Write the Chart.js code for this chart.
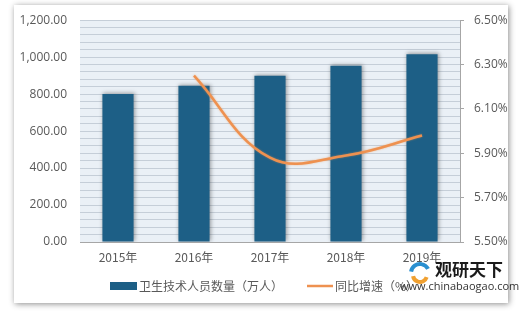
<!DOCTYPE html>
<html>
<head>
<meta charset="utf-8">
<script src="https://cdn.jsdelivr.net/npm/chart.js@4"></script>
<style>
  html, body { margin: 0; padding: 0; background: #fff; }
  #wrap { width: 520px; height: 313px; }
</style>
</head>
<body>
<div id="wrap"><canvas id="myChart" width="520" height="313"></canvas></div>
<script>
// data
const years = ['2015年', '2016年', '2017年', '2018年', '2019年'];
const staff = [800.8, 845.4, 898.8, 952.9, 1015.4];       // 卫生技术人员数量（万人）
const growth = [null, 6.25, 5.88, 5.89, 5.98];           // 同比增速（%）
const staffLabel = '卫生技术人员数量（万人）';
const growthLabel = '同比增速（%）';

const barColor = '#1d5f86';
const lineColor = '#ee9150';
const fontCJK = '"Noto Sans CJK SC", "Noto Sans", sans-serif';
const fontNum = '"Open Sans", "DejaVu Sans", sans-serif';

// white card with a grey shadow behind everything
const framePlugin = {
  id: 'frame',
  beforeDraw(chart) {
    const ctx = chart.ctx;
    const a = chart.chartArea;
    ctx.save();
    ctx.fillStyle = '#ffffff';
    ctx.fillRect(0, 0, chart.width, chart.height);
    ctx.shadowColor = 'rgba(0,0,0,0.45)';
    ctx.shadowBlur = 6;
    ctx.shadowOffsetX = 1;
    ctx.shadowOffsetY = 1;
    ctx.fillStyle = '#ffffff';
    ctx.fillRect(14, 5, 494, 298);
    ctx.restore();
    // plot background
    ctx.save();
    ctx.fillStyle = '#eaf0f6';
    ctx.fillRect(a.left, a.top, a.right - a.left, a.bottom - a.top);
    ctx.restore();
  }
};

// soft shadow under the bars / glow on the line
const shadowPlugin = {
  id: 'shadows',
  beforeDatasetDraw(chart, args) {
    const ctx = chart.ctx;
    ctx.save();
    if (args.index === 0) {
      ctx.shadowColor = 'rgba(0,0,0,0.35)';
      ctx.shadowBlur = 4;
      ctx.shadowOffsetX = 1;
      ctx.shadowOffsetY = -1;
    } else {
      ctx.shadowColor = 'rgba(240,150,80,0.6)';
      ctx.shadowBlur = 2;
    }
  },
  afterDatasetDraw(chart) {
    chart.ctx.restore();
  }
};

// legend + watermark
const legendPlugin = {
  id: 'legendDraw',
  afterDraw(chart) {
    const ctx = chart.ctx;
    ctx.save();
    ctx.fillStyle = barColor;
    ctx.fillRect(110, 282, 27, 8);
    ctx.font = '12px ' + fontCJK;
    ctx.fillStyle = '#595959';
    ctx.textBaseline = 'middle';
    ctx.fillText(staffLabel, 139, 286);
    ctx.strokeStyle = lineColor;
    ctx.lineWidth = 2.5;
    ctx.beginPath();
    ctx.moveTo(307, 286);
    ctx.lineTo(333, 286);
    ctx.stroke();
    ctx.fillText(growthLabel, 335, 286);

    // watermark logo
    ctx.lineWidth = 4;
    ctx.strokeStyle = '#2a8fd0';
    ctx.beginPath();
    ctx.arc(420, 273, 9, Math.PI * 1.05, Math.PI * 1.85);
    ctx.stroke();
    ctx.strokeStyle = '#f0a030';
    ctx.beginPath();
    ctx.arc(420, 275, 7, Math.PI * 0.1, Math.PI * 0.95);
    ctx.stroke();
    ctx.fillStyle = '#1a1a1a';
    ctx.font = 'bold 17px ' + fontCJK;
    ctx.fillText('观研天下', 435, 270);
    ctx.font = '11px ' + fontNum;
    ctx.fillStyle = '#333';
    ctx.fillText('www.chinabaogao.com', 400, 287);
    ctx.restore();
  }
};

const ctx = document.getElementById('myChart').getContext('2d');
new Chart(ctx, {
  data: {
    labels: years,
    datasets: [
      {
        type: 'bar',
        label: staffLabel,
        data: staff,
        backgroundColor: barColor,
        yAxisID: 'y',
        barPercentage: 0.82,
        categoryPercentage: 0.5,
        order: 2
      },
      {
        type: 'line',
        label: growthLabel,
        data: growth,
        borderColor: lineColor,
        borderWidth: 2.5,
        pointRadius: 0,
        tension: 0.4,
        spanGaps: true,
        yAxisID: 'y1',
        order: 1
      }
    ]
  },
  options: {
    responsive: false,
    animation: false,
    layout: { padding: { left: 0, right: 0, top: 14, bottom: 0 } },
    plugins: {
      legend: { display: false },
      tooltip: { enabled: false }
    },
    scales: {
      x: {
        grid: { display: false, drawTicks: false },
        border: { display: true, color: '#a6a6a6', width: 1 },
        ticks: { color: '#595959', font: { size: 12, family: fontCJK }, padding: 8 },
        afterFit(s) { s.height = 71; }
      },
      y: {
        position: 'left',
        min: 0,
        max: 1200,
        grid: { color: '#c5ced8', lineWidth: 1, drawTicks: false },
        border: { display: false },
        ticks: {
          stepSize: 40,
          autoSkip: false,
          padding: 13,
          color: '#595959',
          font: { size: 12, family: fontNum },
          callback: v => (v % 200 === 0 ? v.toLocaleString('en-US', { minimumFractionDigits: 2, maximumFractionDigits: 2 }) : '')
        },
        afterFit(s) { s.width = 80; }
      },
      y1: {
        position: 'right',
        min: 5.5,
        max: 6.5,
        grid: { drawOnChartArea: false, color: '#a6a6a6', tickLength: 4 },
        border: { display: true, color: '#a6a6a6' },
        ticks: {
          stepSize: 0.2,
          padding: 10,
          color: '#595959',
          font: { size: 12, family: fontNum },
          callback: v => v.toFixed(2) + '%'
        },
        afterFit(s) { s.width = 60; }
      }
    }
  },
  plugins: [framePlugin, shadowPlugin, legendPlugin]
});
</script>
</body>
</html>
